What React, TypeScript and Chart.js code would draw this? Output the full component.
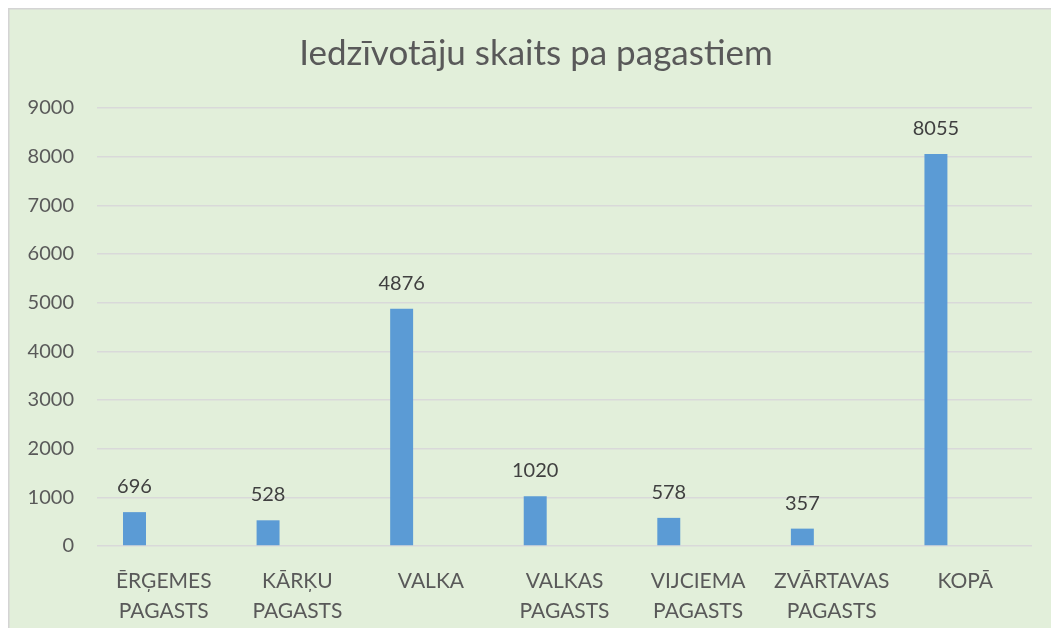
import React, { useEffect, useRef } from "react";
import { Chart, registerables } from "chart.js";

Chart.register(...registerables);

const TITLE = "Iedzīvotāju skaits pa pagastiem";
const categories: string[][] = [
  ["ĒRĢEMES", "PAGASTS"],
  ["KĀRĶU", "PAGASTS"],
  ["VALKA"],
  ["VALKAS", "PAGASTS"],
  ["VIJCIEMA", "PAGASTS"],
  ["ZVĀRTAVAS", "PAGASTS"],
  ["KOPĀ"],
];
const population: number[] = [696, 528, 4876, 1020, 578, 357, 8055];
const emptySeries: (number | null)[] = [null, null, null, null, null, null, null];
const yMin = 0;
const yMax = 9000;
const yStep = 1000;

const FONT = "Lato";
const TEXT = "#595959";
const LABEL = "#404040";

const bgPlugin = {
  id: "bgPlugin",
  beforeDraw(chart: any) {
    const { ctx, width, height } = chart;
    ctx.save();
    ctx.fillStyle = "#ffffff";
    ctx.fillRect(0, 0, width, height);
    ctx.fillStyle = "#E2EFDA";
    ctx.fillRect(9, 9, width - 9, height - 9);
    ctx.strokeStyle = "#D4D4D4";
    ctx.lineWidth = 1.5;
    ctx.beginPath();
    ctx.moveTo(8.75, height);
    ctx.lineTo(8.75, 8.75);
    ctx.lineTo(width, 8.75);
    ctx.stroke();
    ctx.restore();
  },
  afterDraw(chart: any) {
    const { ctx } = chart;
    ctx.save();
    ctx.fillStyle = TEXT;
    ctx.font = `35px ${FONT}`;
    ctx.textAlign = "center";
    ctx.textBaseline = "alphabetic";
    ctx.fillText(TITLE, 536, 65);
    ctx.restore();
  },
};

const valueLabels = {
  id: "valueLabels",
  afterDatasetsDraw(chart: any) {
    const { ctx } = chart;
    const meta = chart.getDatasetMeta(0);
    ctx.save();
    ctx.fillStyle = LABEL;
    ctx.font = `20px ${FONT}`;
    ctx.textAlign = "center";
    ctx.textBaseline = "alphabetic";
    meta.data.forEach((bar: any, i: number) => {
      ctx.fillText(String(population[i]), bar.x, bar.y - 19);
    });
    ctx.restore();
  },
};

export default function App() {
  const ref = useRef<HTMLCanvasElement>(null);
  useEffect(() => {
    if (!ref.current) return;
    const chart = new Chart(ref.current, {
      type: "bar",
      data: {
        labels: categories,
        datasets: [
          {
            data: population,
            backgroundColor: "#5B9BD5",
            categoryPercentage: 0.877,
            barPercentage: 0.392,
          },
          {
            data: emptySeries,
            backgroundColor: "#ED7D31",
            categoryPercentage: 0.877,
            barPercentage: 0.392,
          },
        ],
      },
      options: {
        responsive: false,
        animation: false,
        layout: { padding: { left: 0, right: 19, top: 108, bottom: 0 } },
        plugins: {
          legend: { display: false },
          title: { display: false },
          tooltip: { enabled: false },
        },
        scales: {
          x: {
            grid: { display: false },
            border: { display: false },
            ticks: {
              color: TEXT,
              font: { family: FONT, size: 21, lineHeight: 1.45 },
              maxRotation: 0,
              minRotation: 0,
              autoSkip: false,
              padding: 12,
            },
            afterFit(scale: any) {
              scale.height = 82;
            },
          },
          y: {
            min: yMin,
            max: yMax,
            grid: { color: "#D9D9D9", lineWidth: 1.5, drawTicks: false },
            border: { display: false },
            ticks: {
              stepSize: yStep,
              color: TEXT,
              font: { family: FONT, size: 20 },
              padding: 23,
              callback: (v: any) => String(v),
            },
            afterFit(scale: any) {
              scale.width = 97;
            },
          },
        },
      },
      plugins: [bgPlugin, valueLabels],
    });
    return () => chart.destroy();
  }, []);
  return (
    <div style={{ position: "fixed", left: 0, top: 0, width: 1051, height: 628 }}>
      <canvas ref={ref} width={1051} height={628} />
    </div>
  );
}
